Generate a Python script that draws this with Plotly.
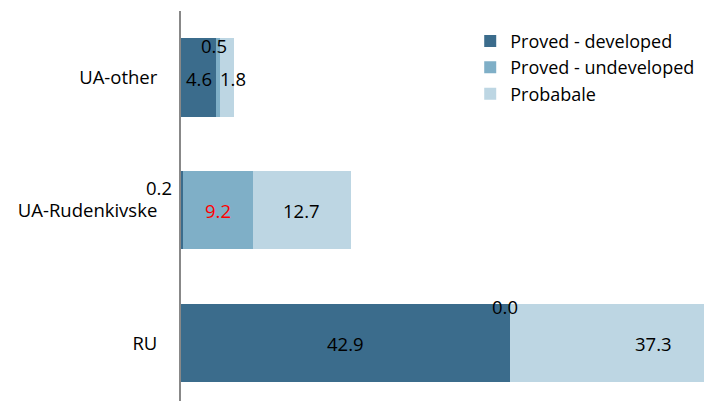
import plotly.graph_objects as go

categories = ["UA-other", "UA-Rudenkivske", "RU"]
series_names = ["Proved - developed", "Proved - undeveloped", "Probabale"]
proved_developed = [4.6, 0.2, 42.9]
proved_undeveloped = [0.5, 9.2, 0.0]
probable = [1.8, 12.7, 37.3]

values = [proved_developed, proved_undeveloped, probable]
colors = ["#3b6c8c", "#7fafc7", "#bdd6e3"]

# label style per (series, category): (xshift, yshift, color)
label_style = {
    (0, 0): (0, -1, "black"), (1, 0): (-4, 32, "black"), (2, 0): (6, -1, "black"),
    (0, 1): (-23, 23, "black"), (1, 1): (0, 0, "#ff0000"), (2, 1): (0, 0, "black"),
    (0, 2): (0, 0, "black"), (1, 2): (-5, 37, "black"), (2, 2): (0, 0, "black"),
}

FONT = "Open Sans, Noto Sans, sans-serif"
FS = 18.5
fig = go.Figure()
for name, vals, c in zip(series_names, values, colors):
    fig.add_trace(go.Bar(y=categories, x=vals, name=name, orientation="h",
                         marker=dict(color=c, line=dict(width=0)), width=0.59,
                         hoverinfo="skip"))

annotations = []
for ci, cat in enumerate(categories):
    start = 0.0
    for si, vals in enumerate(values):
        v = vals[ci]
        xs, ys, col = label_style[(si, ci)]
        annotations.append(dict(x=start + v / 2, y=cat, xref="x", yref="y",
                                text=f"{v:.1f}", showarrow=False,
                                xshift=xs, yshift=ys,
                                font=dict(size=FS, color=col, family=FONT)))
        start += v

fig.update_layout(
    width=704, height=401,
    margin=dict(l=181, r=0, t=11, b=0, autoexpand=False),
    barmode="stack",
    plot_bgcolor="white", paper_bgcolor="white",
    font=dict(family=FONT, size=FS, color="black"),
    annotations=annotations,
    showlegend=True,
    legend=dict(x=0.553, y=0.97, xanchor="left", yanchor="top",
                traceorder="normal", font=dict(size=18, color="black"),
                bgcolor="rgba(0,0,0,0)", itemwidth=30),
    xaxis=dict(range=[0, 68.1], visible=False, showgrid=False, zeroline=False),
    yaxis=dict(categoryorder="array", categoryarray=categories[::-1],
               range=[-0.436, 2.5], showline=True, linecolor="#888888",
               linewidth=2, ticks="", showgrid=False, zeroline=False,
               ticklabelstandoff=18, tickfont=dict(size=FS, color="black")),
)

fig.write_html("out.html")
